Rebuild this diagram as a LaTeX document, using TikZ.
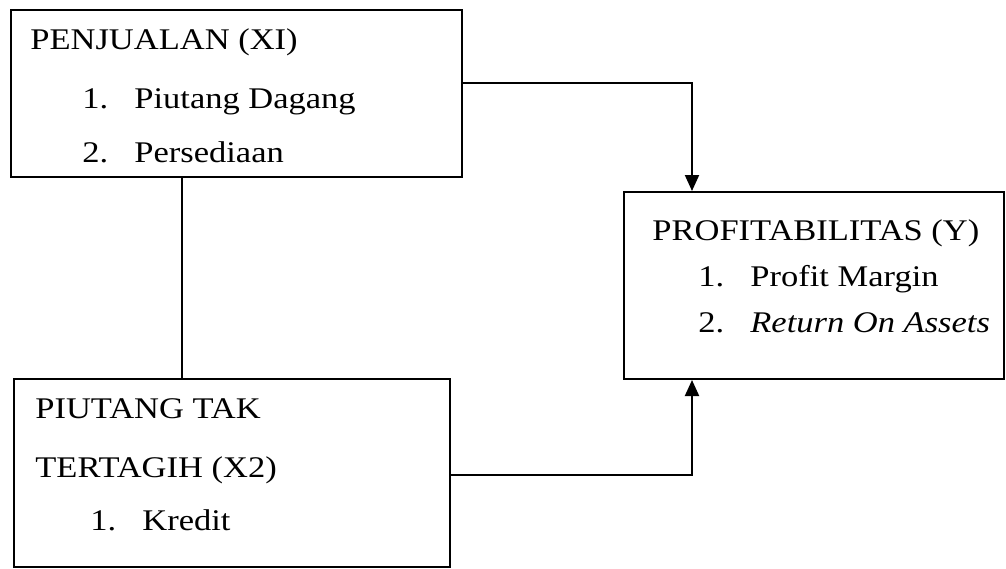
\documentclass[tikz,border=0pt]{standalone}
\usepackage{fontspec}
\setmainfont{Liberation Serif}[FakeStretch=1.15]
\usetikzlibrary{arrows.meta}

\newcommand{\butir}[3]{\hspace*{#1}\makebox[26pt][l]{#2}#3}

\begin{document}
\begin{tikzpicture}[
  x=0.5pt, y=-0.5pt,
  kotak/.style={draw, line width=1pt, anchor=north west, inner sep=0pt},
  isi/.style={anchor=base west, align=left, inner sep=0pt, font=\fontsize{15}{28}\selectfont},
  garis/.style={line width=1pt},
  panah/.style={line width=1pt, -{Triangle[length=8pt,width=7pt]}}
]
\useasboundingbox (0,0) rectangle (1006,568);

% kotak
\node[kotak, minimum width=225.5pt, minimum height=83.5pt] (penjualan) at (10,9) {};
\node[kotak, minimum width=218pt, minimum height=94pt] (piutang) at (13,378) {};
\node[kotak, minimum width=190pt, minimum height=93.5pt] (profit) at (623,191) {};

% teks (base = baris terakhir)
\node[isi] (tpenjualan) at (30,162) {PENJUALAN (XI)\\[1.5pt]
  \butir{26pt}{1.}{Piutang Dagang}\\[-1pt]
  \butir{26pt}{2.}{Persediaan}};
\node[isi] (tpiutang) at (35,530) {PIUTANG TAK\\[1.5pt]
  TERTAGIH (X2)\\[-1.5pt]
  \butir{27.5pt}{1.}{Kredit}};
\node[isi, font=\fontsize{15}{23}\selectfont] (tprofit) at (652,332) {PROFITABILITAS (Y)\\
  \butir{23pt}{1.}{Profit Margin}\\
  \butir{23pt}{2.}{\textit{Return On Assets}}};

% hubungan
\coordinate (turun) at ([xshift=86pt]penjualan.south west);
\draw[garis] (turun) -- (turun |- piutang.north);
\draw[panah] ([yshift=-37pt]penjualan.north east) -| ([xshift=34.5pt]profit.north west);
\draw[panah] ([yshift=-48.5pt]piutang.north east) -| ([xshift=34.5pt]profit.south west);

\end{tikzpicture}
\end{document}
